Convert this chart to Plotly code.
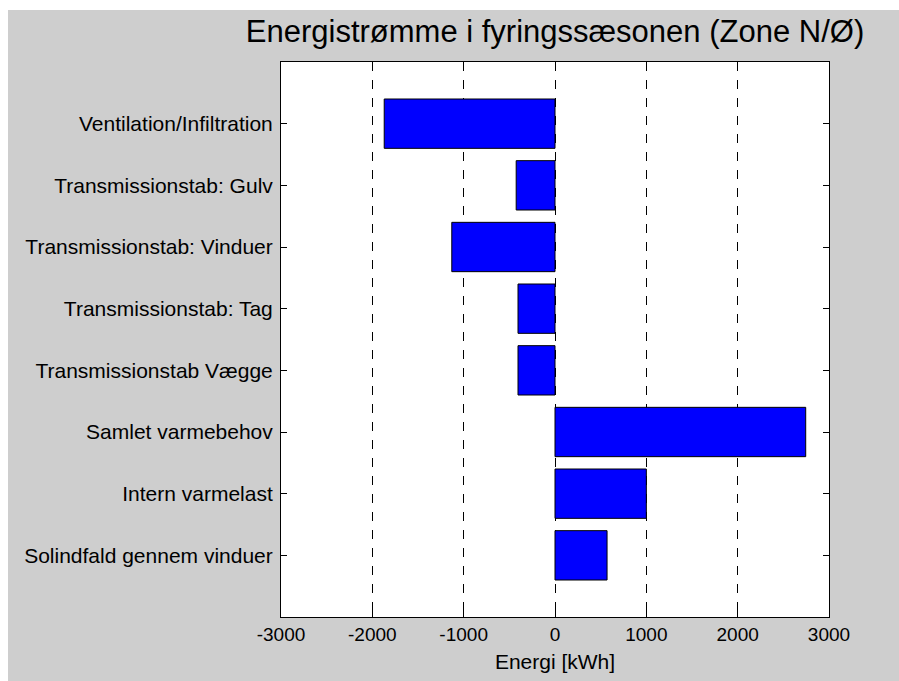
import plotly.graph_objects as go

categories = [
    "Solindfald gennem vinduer",
    "Intern varmelast",
    "Samlet varmebehov",
    "Transmissionstab Vægge",
    "Transmissionstab: Tag",
    "Transmissionstab: Vinduer",
    "Transmissionstab: Gulv",
    "Ventilation/Infiltration",
]
values = [570, 1000, 2745, -405, -405, -1130, -425, -1870]

x_ticks = [-3000, -2000, -1000, 0, 1000, 2000, 3000]

# figure placed at (8, 10) in the page and filling the rest of the window
W, H = 891, 671
L, R, T, B = 273, 70, 52, 64

fig = go.Figure()
fig.add_trace(go.Bar(
    x=values, y=categories, orientation="h", width=0.8,
    marker=dict(color="#0000ff", line=dict(color="black", width=1)),
    showlegend=False,
))

font = "Liberation Sans, Arial, sans-serif"
pw = W - L - R

fig.update_layout(
    width=W, height=H,
    margin=dict(l=L, r=R, t=T, b=B, pad=0),
    paper_bgcolor="#cecece",
    plot_bgcolor="white",
    font=dict(family=font, size=19, color="black"),
    title=dict(text="Energistrømme i fyringssæsonen (Zone N/Ø)",
               font=dict(family=font, size=31, color="black"),
               x=(L + pw / 2) / W, xanchor="center", xref="container",
               y=1 - 21 / H, yanchor="middle", yref="container"),
    xaxis=dict(
        range=[-3000, 3000], tickvals=x_ticks, ticktext=[str(v) for v in x_ticks],
        showgrid=True, gridcolor="black", griddash="dash", gridwidth=1,
        zeroline=False, showline=True, linecolor="black", linewidth=1, mirror="ticks",
        ticks="inside", ticklen=6, tickcolor="black",
        title=dict(text="Energi [kWh]", font=dict(size=21), standoff=10),
        tickfont=dict(size=19),
    ),
    yaxis=dict(
        categoryorder="array", categoryarray=categories, range=[-1, 8],
        showgrid=False, zeroline=False, showline=True, linecolor="black",
        linewidth=1, mirror="ticks", ticks="inside", ticklen=6, tickcolor="black",
        tickfont=dict(size=21), ticklabelstandoff=3,
    ),
)

post = (
    "document.body.style.margin='10px 0 0 8px';"
    "document.body.style.overflow='hidden';"
    "document.documentElement.style.overflow='hidden';"
)
fig.write_html("out.html", post_script=post)
